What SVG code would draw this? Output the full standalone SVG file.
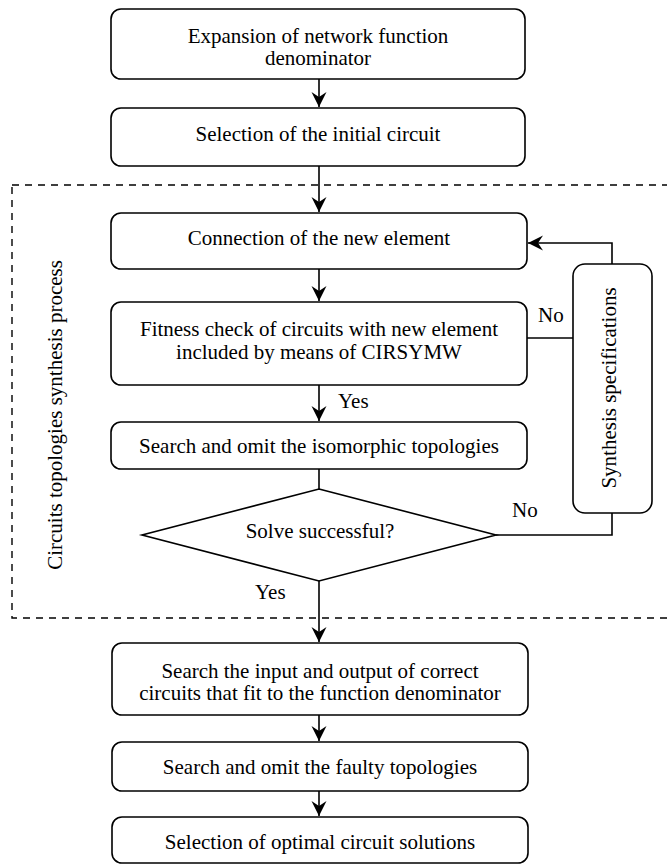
<svg xmlns="http://www.w3.org/2000/svg" width="667" height="866" viewBox="0 0 667 866">
<style>
.b{fill:#fff;stroke:#000;stroke-width:1.6}
.t{font-family:"Liberation Serif","Times New Roman",serif;font-size:21px;fill:#000}
.m{text-anchor:middle}
.c{fill:none;stroke:#000;stroke-width:1.6}
.d{fill:none;stroke:#000;stroke-width:1.4;stroke-dasharray:7 6}
</style>
<defs>
<marker id="ah" markerWidth="16" markerHeight="16" viewBox="-15 -8 16 16" refX="0" refY="0" orient="auto" markerUnits="userSpaceOnUse">
<path d="M0,0 L-15,-7.5 L-10,0 L-15,7.5 Z" fill="#000"/>
</marker>
</defs>
<rect class="d" x="12" y="185" width="670" height="433"/>
<text class="t m" transform="translate(62,415) rotate(-90)">Circuits topologies synthesis process</text>
<g id="connectors">
<line class="c" x1="319" y1="79" x2="319" y2="107" marker-end="url(#ah)"/>
<line class="c" x1="319" y1="166" x2="319" y2="212" marker-end="url(#ah)"/>
<line class="c" x1="319" y1="269" x2="319" y2="301" marker-end="url(#ah)"/>
<line class="c" x1="319" y1="385" x2="319" y2="421" marker-end="url(#ah)"/>
<line class="c" x1="319" y1="469" x2="319" y2="489"/>
<line class="c" x1="319" y1="581" x2="319" y2="642" marker-end="url(#ah)"/>
<line class="c" x1="319" y1="715" x2="319" y2="741" marker-end="url(#ah)"/>
<line class="c" x1="319" y1="791" x2="319" y2="816" marker-end="url(#ah)"/>
<line class="c" x1="527" y1="338" x2="573" y2="338"/>
<polyline class="c" points="496,535 612,535 612,513"/>
<polyline class="c" points="612,264 612,243 528,243" marker-end="url(#ah)"/>
<text class="t" x="538" y="322">No</text>
<text class="t" x="338" y="408">Yes</text>
<text class="t" x="512" y="517">No</text>
<text class="t" x="255" y="599">Yes</text>
</g>
<g id="n1"><rect class="b" x="111" y="9" width="414" height="70" rx="10"/>
<text class="t m" x="318" y="43">Expansion of network function</text>
<text class="t m" x="318" y="65">denominator</text></g>
<g id="n2"><rect class="b" x="111" y="108" width="414" height="58" rx="10"/>
<text class="t m" x="318" y="141">Selection of the initial circuit</text></g>
<g id="n3"><rect class="b" x="111" y="213" width="416" height="56" rx="10"/>
<text class="t m" x="319" y="245">Connection of the new element</text></g>
<g id="n4"><rect class="b" x="111" y="302" width="416" height="83" rx="10"/>
<text class="t m" x="319" y="336">Fitness check of circuits with new element</text>
<text class="t m" x="319" y="359">included by means of CIRSYMW</text></g>
<g id="n5"><rect class="b" x="111" y="422" width="416" height="47" rx="10"/>
<text class="t m" x="319" y="453">Search and omit the isomorphic topologies</text></g>
<g id="n6"><polygon class="b" points="319,489 496,535 319,581 142,535"/>
<text class="t m" x="320" y="538">Solve successful?</text></g>
<g id="n7"><rect class="b" x="573" y="264" width="79" height="249" rx="12"/>
<text class="t m" transform="translate(616,388) rotate(-90)">Synthesis specifications</text></g>
<g id="n8"><rect class="b" x="112" y="643" width="416" height="72" rx="10"/>
<text class="t m" x="320" y="678">Search the input and output of correct</text>
<text class="t m" x="320" y="700">circuits that fit to the function denominator</text></g>
<g id="n9"><rect class="b" x="112" y="742" width="416" height="49" rx="10"/>
<text class="t m" x="320" y="774">Search and omit the faulty topologies</text></g>
<g id="n10"><rect class="b" x="112" y="817" width="416" height="46" rx="10"/>
<text class="t m" x="320" y="849">Selection of optimal circuit solutions</text></g>
</svg>
